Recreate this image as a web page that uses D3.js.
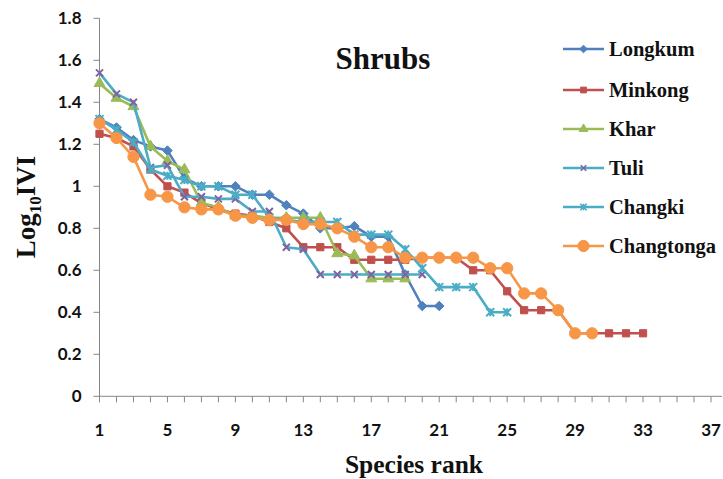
<!DOCTYPE html>
<html>
<head>
<meta charset="utf-8">
<script src="https://cdn.jsdelivr.net/npm/d3@7/dist/d3.min.js"></script>
<style>
  html, body { margin: 0; padding: 0; background: #fff; }
  svg { display: block; }
</style>
</head>
<body>
<svg id="chart" width="723" height="479"></svg>
<script>
// Log10 IVI of shrub species by rank at six sites
const seriesNames = ["Longkum", "Minkong", "Khar", "Tuli", "Changki", "Changtonga"];

const longkum = [1.32, 1.28, 1.22, 1.19, 1.17, 1.04, 1.00, 1.00, 1.00, 0.96, 0.96, 0.91, 0.87, 0.80, 0.80, 0.81, 0.76, 0.76, 0.58, 0.43, 0.43];
const minkong = [1.25, 1.23, 1.19, 1.08, 1.00, 0.97, 0.92, 0.89, 0.87, 0.86, 0.83, 0.80, 0.71, 0.71, 0.71, 0.65, 0.65, 0.65, 0.65, 0.66, 0.66, 0.66, 0.60, 0.60, 0.50, 0.41, 0.41, 0.41, 0.30, 0.30, 0.30, 0.30, 0.30];
const khar = [1.49, 1.42, 1.38, 1.19, 1.12, 1.08, 0.92, 0.90, 0.86, 0.86, 0.85, 0.85, 0.85, 0.85, 0.68, 0.67, 0.56, 0.56, 0.56];
const tuli = [1.54, 1.44, 1.40, 1.09, 1.10, 0.95, 0.95, 0.94, 0.94, 0.88, 0.88, 0.71, 0.70, 0.58, 0.58, 0.58, 0.58, 0.58, 0.58, 0.58];
const changki = [1.32, 1.27, 1.21, 1.08, 1.05, 1.03, 1.00, 1.00, 0.96, 0.96, 0.85, 0.84, 0.83, 0.83, 0.83, 0.77, 0.77, 0.77, 0.70, 0.61, 0.52, 0.52, 0.52, 0.40, 0.40];
const changtonga = [1.30, 1.23, 1.14, 0.96, 0.95, 0.90, 0.89, 0.89, 0.86, 0.85, 0.84, 0.84, 0.82, 0.82, 0.80, 0.76, 0.71, 0.71, 0.66, 0.66, 0.66, 0.66, 0.66, 0.61, 0.61, 0.49, 0.49, 0.41, 0.30, 0.30];

const xTickValues = [1, 5, 9, 13, 17, 21, 25, 29, 33, 37];
const yTickValues = [0, 0.2, 0.4, 0.6, 0.8, 1.0, 1.2, 1.4, 1.6, 1.8];

const seriesValues = [longkum, minkong, khar, tuli, changki, changtonga];

// visual style per series
const styles = [
  { line: "#4F81BD", fill: "#4F81BD", marker: "diamond", size: 58 },
  { line: "#C0504D", fill: "#C0504D", marker: "square", size: 52 },
  { line: "#9BBB59", fill: "#9BBB59", marker: "triangle", size: 52 },
  { line: "#4BACC6", fill: "#8064A2", marker: "cross", size: 7 },
  { line: "#4BACC6", fill: "#4BACC6", marker: "star", size: 8 },
  { line: "#F79646", fill: "#F79646", marker: "circle", size: 100 }
];

const svg = d3.select("#chart");

const x = d3.scaleLinear().domain([1, 37]).range([99.5, 711]);
const y = d3.scaleLinear().domain([0, 1.8]).range([396.3, 18.3]);

const axisColor = "#868686";
const serif = "'Liberation Serif', 'Times New Roman', serif";
const sans = "Lato, 'Open Sans', sans-serif";

// y axis
const yAxis = svg.append("g").attr("transform", "translate(99.5,0)");
yAxis.append("line").attr("x1", 0).attr("x2", 0).attr("y1", y(0)).attr("y2", y(1.8))
  .attr("stroke", axisColor).attr("stroke-width", 1);
yAxis.selectAll("line.tick").data(yTickValues).join("line").attr("class", "tick")
  .attr("x1", -6).attr("x2", 0)
  .attr("y1", d => y(d)).attr("y2", d => y(d))
  .attr("stroke", axisColor).attr("stroke-width", 1);
yAxis.selectAll("text").data(yTickValues).join("text")
  .attr("x", -18).attr("y", d => y(d)).attr("dy", "0.36em")
  .attr("text-anchor", "end")
  .attr("font-family", sans)
  .attr("font-weight", "bold").attr("font-size", 17).attr("fill", "#111")
  .text(d => d === 0 ? "0" : String(+d.toFixed(1)));

// x axis
const xAxis = svg.append("g").attr("transform", `translate(0,${y(0)})`);
xAxis.append("line").attr("x1", 99.5).attr("x2", 722).attr("y1", 0).attr("y2", 0)
  .attr("stroke", axisColor).attr("stroke-width", 1);
xAxis.selectAll("line.tick").data(d3.range(1, 38)).join("line").attr("class", "tick")
  .attr("x1", d => x(d)).attr("x2", d => x(d)).attr("y1", 0).attr("y2", 6)
  .attr("stroke", axisColor).attr("stroke-width", 1);
xAxis.selectAll("text").data(xTickValues).join("text")
  .attr("x", d => x(d)).attr("y", 40)
  .attr("text-anchor", "middle")
  .attr("font-family", sans)
  .attr("font-weight", "bold").attr("font-size", 17).attr("fill", "#111")
  .text(d => d);

// axis titles
svg.append("text")
  .attr("x", 414).attr("y", 473)
  .attr("text-anchor", "middle")
  .attr("font-family", serif)
  .attr("font-weight", "bold").attr("font-size", 25.5).attr("fill", "#111")
  .text("Species rank");

const yTitle = svg.append("text")
  .attr("transform", "translate(35,207) rotate(-90)")
  .attr("text-anchor", "middle")
  .attr("font-family", serif)
  .attr("font-weight", "bold").attr("font-size", 27).attr("fill", "#111");
yTitle.append("tspan").text("Log");
yTitle.append("tspan").attr("font-size", 17).attr("dy", 6).text("10");
yTitle.append("tspan").attr("dy", -6).text("IVI");

// chart title
svg.append("text")
  .attr("x", 383).attr("y", 69)
  .attr("text-anchor", "middle")
  .attr("font-family", serif)
  .attr("font-weight", "bold").attr("font-size", 31).attr("fill", "#111")
  .text("Shrubs");

// marker drawing
function drawMarker(g, st, scale) {
  const k = scale || 1;
  if (st.marker === "diamond") {
    g.append("path").attr("d", d3.symbol(d3.symbolDiamond2, st.size * k * k)())
      .attr("fill", st.fill).attr("stroke", st.fill).attr("stroke-width", 1);
  } else if (st.marker === "square") {
    g.append("path").attr("d", d3.symbol(d3.symbolSquare, st.size * k * k)())
      .attr("fill", st.fill).attr("stroke", st.fill).attr("stroke-width", 1);
  } else if (st.marker === "triangle") {
    g.append("path").attr("d", d3.symbol(d3.symbolTriangle, st.size * k * k)())
      .attr("fill", st.fill).attr("stroke", st.fill).attr("stroke-width", 1);
  } else if (st.marker === "circle") {
    g.append("path").attr("d", d3.symbol(d3.symbolCircle, st.size * k * k)())
      .attr("fill", st.fill).attr("stroke", st.fill).attr("stroke-width", 1);
  } else if (st.marker === "cross") {
    const r = st.size / 2 * k;
    g.append("path").attr("d", `M${-r},${-r}L${r},${r}M${-r},${r}L${r},${-r}`)
      .attr("stroke", st.fill).attr("stroke-width", 2 * k).attr("fill", "none");
  } else if (st.marker === "star") {
    const r = st.size / 2 * k;
    g.append("path").attr("d", `M${-r},${-r}L${r},${r}M${-r},${r}L${r},${-r}M0,${-r}L0,${r}`)
      .attr("stroke", st.fill).attr("stroke-width", 2 * k).attr("fill", "none");
  }
}

const line = d3.line().x((d, i) => x(i + 1)).y(d => y(d));
const plot = svg.append("g");

seriesValues.forEach((vals, s) => {
  const st = styles[s];
  const g = plot.append("g");
  g.append("path").datum(vals).attr("d", line)
    .attr("fill", "none").attr("stroke", st.line).attr("stroke-width", 2.6)
    .attr("stroke-linejoin", "round");
  vals.forEach((v, i) => {
    const m = g.append("g").attr("transform", `translate(${x(i + 1)},${y(v)})`);
    drawMarker(m, st, 1);
  });
});

// legend
const legendRows = [49, 90, 129, 168, 207, 246];
const legend = svg.append("g");
seriesNames.forEach((name, s) => {
  const st = styles[s];
  const row = legend.append("g").attr("transform", `translate(0,${legendRows[s]})`);
  row.append("line").attr("x1", 563).attr("x2", 604).attr("y1", 0).attr("y2", 0)
    .attr("stroke", st.line).attr("stroke-width", 2.6);
  const m = row.append("g").attr("transform", "translate(583.5,0)");
  drawMarker(m, st, s === 5 ? 1 : 0.8);
  row.append("text").attr("x", 609).attr("y", 0).attr("dy", "0.35em")
    .attr("font-family", serif)
    .attr("font-weight", "bold").attr("font-size", 20.5).attr("fill", "#111")
    .text(name);
});
</script>
</body>
</html>
